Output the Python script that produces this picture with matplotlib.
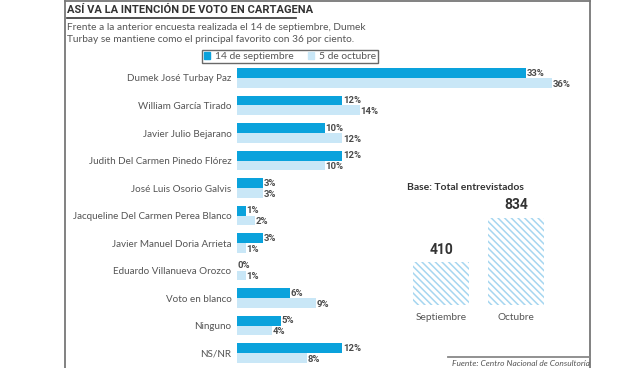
import matplotlib.pyplot as plt
from matplotlib.lines import Line2D
from matplotlib.patches import Patch

# data
candidatos = ["Dumek José Turbay Paz", "William García Tirado", "Javier Julio Bejarano",
              "Judith Del Carmen Pinedo Flórez", "José Luis Osorio Galvis",
              "Jacqueline Del Carmen Perea Blanco", "Javier Manuel Doria Arrieta",
              "Eduardo Villanueva Orozco", "Voto en blanco", "Ninguno", "NS/NR"]
septiembre = [33, 12, 10, 12, 3, 1, 3, 0, 6, 5, 12]
octubre = [36, 14, 12, 10, 3, 2, 1, 1, 9, 4, 8]
series_names = ["14 de septiembre", "5 de octubre"]

base_labels = ["Septiembre", "Octubre"]
base_values = [410, 834]

W, H = 640, 368
dark = "#0aa2dc"
light = "#c9e7f7"
grey = "#4a4a4a"
narrow = "Roboto"
body = "Lato"


def fx(x):
    return x / W


def fy(y):
    return 1 - y / H


fig = plt.figure(figsize=(6.4, 3.68), dpi=100)

# frame around the graphic
fig.add_artist(Line2D([fx(65), fx(65)], [fy(1), 0], color="#777777", lw=1.3))
fig.add_artist(Line2D([fx(590), fx(590)], [fy(1), 0], color="#777777", lw=1.3))
fig.add_artist(Line2D([fx(65), fx(590)], [fy(1), fy(1)], color="#777777", lw=1.3))

# title + subtitle
fig.text(fx(67), fy(10), "ASÍ VA LA INTENCIÓN DE VOTO EN CARTAGENA", family=narrow,
         weight="bold", fontsize=8, color="#333333", va="center", ha="left")
fig.add_artist(Line2D([fx(67), fx(296)], [fy(18), fy(18)], color="#333333", lw=1.2))
fig.text(fx(67), fy(27), "Frente a la anterior encuesta realizada el 14 de septiembre, Dumek",
         family=body, fontsize=7.3, color="#555555", va="center")
fig.text(fx(67), fy(40), "Turbay se mantiene como el principal favorito con 36 por ciento.",
         family=body, fontsize=7.3, color="#555555", va="center")

# main bar chart
ax = fig.add_axes([fx(237), 0, (587 - 237) / W, (368 - 64) / H])
rows = list(range(len(candidatos)))
h = 0.36
ax.barh([r - h / 2 for r in rows], septiembre, height=h, color=dark)
ax.barh([r + h / 2 for r in rows], octubre, height=h, color=light)
for r, a, b in zip(rows, septiembre, octubre):
    ax.text(a + 0.1, r - h / 2, f"{a}%", family=narrow, weight="bold", fontsize=6.8,
            color=grey, va="center", ha="left")
    ax.text(b + 0.1, r + h / 2 + 0.05, f"{b}%", family=narrow, weight="bold", fontsize=6.8,
            color=grey, va="center", ha="left")
ax.set_xlim(0, 40)
ax.set_ylim(10.545, -0.509)
ax.set_yticks(rows)
ax.set_yticklabels(candidatos, family=body, fontsize=7.1, color="#555555")
ax.tick_params(axis="y", length=0, pad=4)
ax.set_xticks([])
for s in ax.spines.values():
    s.set_visible(False)
ax.patch.set_alpha(0)

fig.legend(handles=[Patch(color=dark), Patch(color=light)], labels=series_names,
           loc="center", bbox_to_anchor=(fx(290), fy(56.5)), ncol=2,
           prop={"family": body, "size": 7.4}, frameon=True, fancybox=False,
           edgecolor="#444444", handlelength=0.6, handleheight=0.6, handletextpad=0.5,
           columnspacing=1.4, borderpad=0.2, labelcolor="#555555")

# sample size inset
plt.rcParams["hatch.linewidth"] = 1.1
bx = fig.add_axes([fx(400), fy(305), 160 / W, 105 / H])
bars = bx.bar([0, 1], base_values, width=0.747, color="white", edgecolor="#a6d6f0",
              hatch="\\\\\\\\\\", lw=0)
bx.bar_label(bars, labels=[str(v) for v in base_values], padding=4, family=narrow,
             weight="bold", fontsize=10, color="#333333")
bx.set_xlim(-0.547, 1.587)
bx.set_ylim(0, 1006)
bx.set_xticks([0, 1])
bx.set_xticklabels(base_labels, family=body, fontsize=7.3, color="#555555")
bx.tick_params(axis="x", length=0, pad=6)
bx.set_yticks([])
for s in bx.spines.values():
    s.set_visible(False)
bx.patch.set_alpha(0)
fig.text(fx(407), fy(187), "Base: Total entrevistados", family=body, weight="bold",
         fontsize=7.5, color="#333333", va="center")

# source
fig.add_artist(Line2D([fx(448), fx(590)], [fy(357), fy(357)], color="#888888", lw=1.3))
fig.text(fx(590), fy(363), "Fuente: Centro Nacional de Consultoría", family=body,
         style="italic", fontsize=6, color="#555555", va="center", ha="right")

fig.savefig("out.png", dpi=100)
